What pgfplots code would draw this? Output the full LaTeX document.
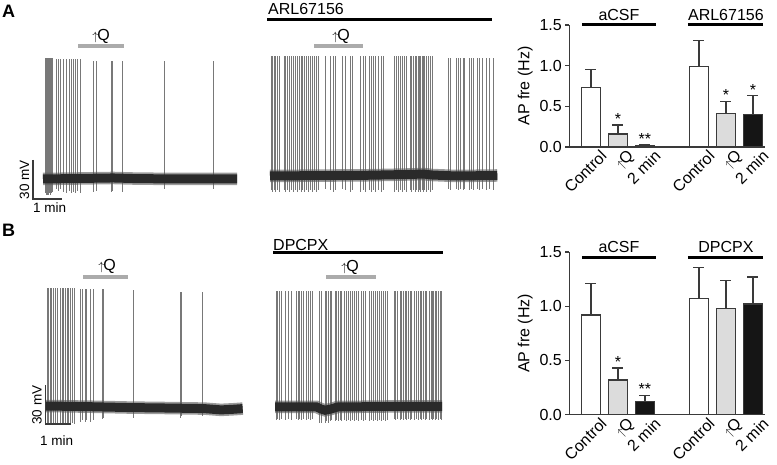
\documentclass[border=0pt]{standalone}
\usepackage{fontspec}
\setmainfont{Liberation Sans}
\usepackage{pgfplots}
\usepackage{pgfplotstable}
\pgfplotsset{compat=1.18}
\definecolor{edge}{HTML}{3A3A3A}
\definecolor{lgray}{HTML}{DCDCDC}
\definecolor{bblack}{HTML}{151515}
\definecolor{tracecol}{HTML}{2A2A2A}
\definecolor{spikecol}{HTML}{787878}
\definecolor{qbar}{HTML}{ABABAB}
\newcommand{\fs}{\fontsize{16}{18}\selectfont}
\newcommand{\upQ}{{\fontsize{13}{13}\selectfont$\uparrow$}\kern-1pt Q}

% spike times (s), peak (mV), trough (mV)
\pgfplotstableread{
t p d
4.3 93 -11
5.4 93 -11
6.4 93 -12
7.5 93 -11
8.6 93 -12
9.6 93 -10
10.7 93 -12
12.9 93 -11
15.0 93 -12
17.1 93 -11
19.3 93 -10
29.3 92 -8
32.9 92 -9
36.4 92 -8
43.6 92 -10
50.7 92 -11
55.7 92 -9
60.0 92 -11
65.0 92 -10
68.6 92 -11
73.6 92 -9
79.3 92 -11
107.8 91 -10
115.1 91 -9
145.7 91 -10
149.3 91 -9
170.7 91 -10
259.9 91 -8
365.1 91 -8
}\spAa
\pgfplotstableread{
t b
0 0
60 0.3
150 0.8
200 0.3
300 0
416 0
}\blAa

\pgfplotstableread{
t p d
2.1 92 -11
4.9 92 -12
8.6 92 -11
12.2 92 -12
15.0 92 -11
19.3 92 -12
30.6 92 -11
33.6 92 -12
36.4 92 -11
40.7 92 -12
45.0 92 -11
49.3 92 -12
53.6 92 -11
57.9 92 -12
62.1 92 -11
66.4 92 -12
69.3 92 -11
73.5 92 -12
77.8 92 -11
82.1 92 -12
86.4 92 -11
90.6 92 -12
94.9 92 -11
100.1 92 -12
103.5 92 -11
117.9 92 -10
129.2 92 -11
135.0 92 -12
139.3 92 -11
154.9 92 -10
160.7 92 -11
172.1 92 -12
176.4 92 -11
193.5 92 -12
200.8 92 -11
203.6 92 -12
212.1 92 -11
216.4 92 -12
222.2 92 -11
226.5 92 -12
232.1 92 -11
239.4 92 -12
242.8 92 -11
265.7 92 -12
270.0 92 -11
274.3 92 -12
278.6 92 -11
282.9 92 -12
287.1 92 -11
291.4 92 -12
300.0 92 -11
303.6 92 -12
307.1 92 -11
311.4 92 -12
314.4 92 -11
317.1 92 -12
320.0 92 -11
322.9 92 -12
325.7 92 -11
328.6 92 -12
331.5 92 -11
335.8 92 -12
340.1 92 -11
344.4 92 -12
347.1 92 -11
382.1 91 -10
387.2 91 -11
400.1 91 -10
404.4 91 -11
407.1 91 -10
414.2 91 -11
417.2 91 -10
427.1 91 -11
431.4 91 -10
435.7 91 -11
444.3 91 -10
448.6 91 -11
454.3 91 -10
464.4 91 -11
470.0 91 -10
478.6 91 -11
}\spAb
\pgfplotstableread{
t b
0 0
100 0.3
200 0.5
300 1.2
330 1.5
345 0.8
400 0
487 0.4
}\blAb

\pgfplotstableread{
t p d
2.4 91 -14
6.0 91 -14
9.6 91 -13
13.2 91 -14
16.8 91 -13
21.6 91 -14
26.4 91 -13
34.8 91 -14
38.4 91 -13
42.0 91 -14
45.6 91 -13
50.4 91 -14
54.0 91 -13
57.6 91 -14
62.4 91 -13
67.2 91 -14
81.6 90 -12
86.4 90 -11
93.6 90 -12
96.0 90 -11
106.8 90 -12
112.8 90 -11
134.4 90 -10
137.5 90 -9
209.5 89 -9
321.6 88 -9
325.7 88 -8
375.1 88 -8
}\spBa
\pgfplotstableread{
t b
0 0
100 -0.5
200 -1.2
300 -1.6
380 -2
420 -3
450 -2.5
472 -2
}\blBa

\pgfplotstableread{
t p d
2.4 89 -10
5.5 89 -9
10.3 89 -10
16.1 89 -9
24.0 89 -10
31.9 89 -9
40.1 89 -10
52.1 89 -9
55.2 89 -10
58.3 89 -9
64.1 89 -10
67.9 89 -9
74.4 89 -10
79.9 89 -9
85.7 89 -10
90.5 89 -9
106.3 89 -12
112.1 89 -12
120.0 89 -12
124.1 89 -11
127.9 89 -12
132.0 89 -11
136.1 89 -10
144.0 89 -11
148.1 89 -10
151.9 89 -11
156.0 89 -10
160.1 89 -11
165.6 89 -10
170.4 89 -11
175.9 89 -10
180.0 89 -11
186.5 89 -10
189.6 89 -11
194.4 89 -10
199.9 89 -11
208.1 89 -10
211.9 89 -11
216.0 89 -10
225.6 89 -11
230.4 89 -10
236.0 89 -11
240.0 89 -10
246.5 89 -11
249.6 89 -10
256.1 89 -11
259.9 89 -10
264.0 89 -11
270.5 89 -10
286.3 89 -9
289.7 89 -10
294.5 89 -9
300.0 89 -10
304.1 89 -9
307.9 89 -10
312.0 89 -9
316.1 89 -10
319.9 89 -9
324.0 89 -10
328.1 89 -9
334.3 89 -10
338.4 89 -9
343.9 89 -10
348.0 89 -9
352.1 89 -10
355.9 89 -9
360.0 89 -10
364.1 89 -9
369.6 89 -10
374.4 89 -9
377.5 89 -10
380.9 89 -9
384.0 89 -10
388.1 89 -9
391.9 89 -10
396.0 89 -9
400.1 89 -10
}\spBb
\pgfplotstableread{
t b
0 0
100 0
110 -1.5
120 -2.5
135 -1.5
150 0
300 0.5
401 0.5
}\blBb

\pgfplotsset{
 traceax/.style={anchor=south west, hide axis, y=1.3pt, ymin=-15, ymax=95, xmin=0, clip=false},
 spk/.style={ycomb, color=spikecol, line width=0.55pt, mark=none},
 bl1/.style={color=black!65, line width=12.5pt, mark=none, opacity=0.6},
 bl2/.style={color=tracecol, line width=9pt, mark=none},
 barax/.style={
  anchor=south west, scale only axis, width=195.75pt,
  xmin=-0.8, xmax=6.45, ymin=0, ymax=1.5, clip=false,
  axis x line*=bottom, axis y line*=left,
  axis line style={edge, line width=1.3pt, -},
  xtick={0,1,2,4,5,6},
  xticklabels={Control,\upQ,2 min,Control,\upQ,2 min},
  xtick style={draw=none},
  ytick={0,0.5,1,1.5},
  ytick style={edge, line width=1.2pt},
  tick align=outside, major tick length=4pt,
  /pgf/number format/assume math mode=true,
  yticklabel style={/pgf/number format/fixed, /pgf/number format/fixed zerofill, /pgf/number format/precision=1},
  tick label style={font=\fs},
  x tick label style={rotate=45, anchor=north east, inner sep=0.5pt, xshift=8pt, yshift=-4pt},
  ylabel={AP fre (Hz)}, ylabel style={font=\fs},
 },
 bbar/.style={ybar, bar shift=0pt, bar width=19pt, fill=#1, draw=edge, line width=1.3pt,
  error bars/.cd, y dir=plus, y explicit,
  error bar style={edge, line width=1.3pt},
  error mark options={edge, line width=1.3pt, mark size=5.5pt, rotate=90}},
}

\begin{document}
\begin{tikzpicture}[x=1pt,y=1pt]
\useasboundingbox (0,0) rectangle (777,464);

% ---------- panel labels ----------
\node[anchor=base west, inner sep=0pt, font=\fontsize{18}{18}\selectfont\bfseries] at (2,446) {A};
\node[anchor=base west, inner sep=0pt, font=\fontsize{18}{18}\selectfont\bfseries] at (2,227) {B};

% ---------- A1 trace ----------
\begin{axis}[traceax, at={(43pt,265.5pt)}, x=0.46667pt, xmax=416]
\addplot[spk] table[x=t,y=p] {\spAa};
\addplot[spk] table[x=t,y=d] {\spAa};
\addplot[bl1] table[x=t,y=b] {\blAa};
\addplot[bl2] table[x=t,y=b] {\blAa};
\end{axis}
\draw[qbar, line width=4pt] (78,418) -- (124,418);
\node[anchor=base, inner sep=0pt, font=\fs] at (101,423) {\upQ};
\draw[edge, line width=1.3pt] (33,304) -- (33,265) -- (62,265);
\node[rotate=90, anchor=south, inner sep=1.5pt, font=\fontsize{13.5}{13.5}\selectfont] at (31,284.5) {30 mV};
\node[anchor=base west, inner sep=0pt, font=\fontsize{13.5}{13.5}\selectfont] at (33,251) {1 min};

% ---------- A2 trace ----------
\begin{axis}[traceax, at={(270pt,268.5pt)}, x=0.46667pt, xmax=487]
\addplot[spk] table[x=t,y=p] {\spAb};
\addplot[spk] table[x=t,y=d] {\spAb};
\addplot[bl1] table[x=t,y=b] {\blAb};
\addplot[bl2] table[x=t,y=b] {\blAb};
\end{axis}
\draw[black, line width=3pt] (267,444) -- (492,444);
\node[anchor=base west, inner sep=0pt, font=\fs] at (268,449) {ARL67156};
\draw[qbar, line width=4pt] (314,418) -- (363,418);
\node[anchor=base, inner sep=0pt, font=\fs] at (341,423) {\upQ};

% ---------- B1 trace ----------
\begin{axis}[traceax, at={(46pt,38.5pt)}, x=0.41667pt, xmax=472]
\addplot[spk] table[x=t,y=p] {\spBa};
\addplot[spk] table[x=t,y=d] {\spBa};
\addplot[bl1] table[x=t,y=b] {\blBa};
\addplot[bl2] table[x=t,y=b] {\blBa};
\end{axis}
\draw[qbar, line width=4pt] (83,187) -- (128,187);
\node[anchor=base, inner sep=0pt, font=\fs] at (107,193.7) {\upQ};
\draw[edge, line width=1.3pt] (45.7,79) -- (45.7,40) -- (71,40);
\node[rotate=90, anchor=south, inner sep=1.5pt, font=\fontsize{13.5}{13.5}\selectfont] at (43.5,59) {30 mV};
\node[anchor=base west, inner sep=0pt, font=\fontsize{13.5}{13.5}\selectfont] at (40,19) {1 min};

% ---------- B2 trace ----------
\begin{axis}[traceax, at={(275pt,37.5pt)}, x=0.41667pt, xmax=401]
\addplot[spk] table[x=t,y=p] {\spBb};
\addplot[spk] table[x=t,y=d] {\spBb};
\addplot[bl1] table[x=t,y=b] {\blBb};
\addplot[bl2] table[x=t,y=b] {\blBb};
\end{axis}
\draw[black, line width=3pt] (273,211.3) -- (443,211.3);
\node[anchor=base west, inner sep=0pt, font=\fs] at (273,213.7) {DPCPX};
\draw[qbar, line width=4pt] (326,187) -- (376,187);
\node[anchor=base, inner sep=0pt, font=\fs] at (350,192.7) {\upQ};

% ---------- A bar chart ----------
\begin{axis}[barax, at={(569.3pt,317pt)}, height=122pt]
\addplot[bbar=white] table[x=x,y=y,y error=e,row sep=\\] {x y e\\ 0 0.73 0.22\\ 4 0.99 0.32\\};
\addplot[bbar=lgray] table[x=x,y=y,y error=e,row sep=\\] {x y e\\ 1 0.16 0.11\\ 5 0.41 0.15\\};
\addplot[bbar=bblack] table[x=x,y=y,y error=e,row sep=\\] {x y e\\ 2 0.015 0.01\\ 6 0.40 0.23\\};
\draw[black, line width=3.5pt] (axis cs:-0.33,1.506) -- (axis cs:2.41,1.506);
\draw[black, line width=3.5pt] (axis cs:3.59,1.506) -- (axis cs:6.37,1.506);
\node[anchor=base, inner sep=0pt, font=\fs] at (axis cs:1.04,1.553) {aCSF};
\node[anchor=base, inner sep=0pt, font=\fs] at (axis cs:5.0,1.553) {ARL67156};
\node[anchor=south, inner sep=0.5pt, font=\fs] at (axis cs:1,0.27) {*};
\node[anchor=south, inner sep=0.5pt, font=\fs] at (axis cs:2,0.025) {**};
\node[anchor=south, inner sep=0.5pt, font=\fs] at (axis cs:5,0.56) {*};
\node[anchor=south, inner sep=0.5pt, font=\fs] at (axis cs:6,0.63) {*};
\end{axis}

% ---------- B bar chart ----------
\begin{axis}[barax, at={(569.3pt,49.3pt)}, height=162.7pt]
\addplot[bbar=white] table[x=x,y=y,y error=e,row sep=\\] {x y e\\ 0 0.92 0.29\\ 4 1.07 0.29\\};
\addplot[bbar=lgray] table[x=x,y=y,y error=e,row sep=\\] {x y e\\ 1 0.32 0.11\\ 5 0.98 0.26\\};
\addplot[bbar=bblack] table[x=x,y=y,y error=e,row sep=\\] {x y e\\ 2 0.12 0.06\\ 6 1.02 0.25\\};
\draw[black, line width=3.5pt] (axis cs:-0.33,1.447) -- (axis cs:2.41,1.447);
\draw[black, line width=3.5pt] (axis cs:3.59,1.447) -- (axis cs:6.37,1.447);
\node[anchor=base, inner sep=0pt, font=\fs] at (axis cs:1.04,1.494) {aCSF};
\node[anchor=base, inner sep=0pt, font=\fs] at (axis cs:5.0,1.494) {DPCPX};
\node[anchor=south, inner sep=0.5pt, font=\fs] at (axis cs:1,0.43) {*};
\node[anchor=south, inner sep=0.5pt, font=\fs] at (axis cs:2,0.18) {**};
\end{axis}
\end{tikzpicture}
\end{document}
